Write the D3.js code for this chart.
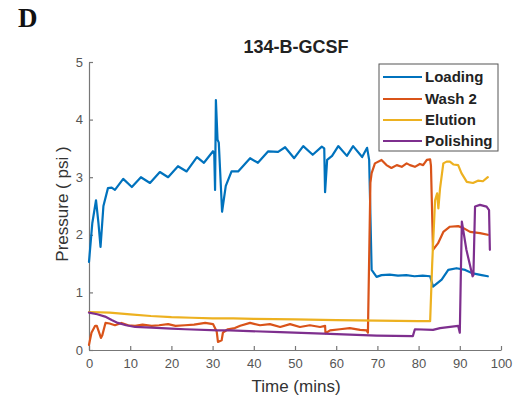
<!DOCTYPE html>
<html><head><meta charset="utf-8">
<script src="https://cdn.jsdelivr.net/npm/d3@7"></script>
<style>body{margin:0;background:#fff;}svg{display:block;font-family:"Liberation Sans",Arial,sans-serif;}</style>
</head><body>
<svg id="chart" width="518" height="401"></svg>
<script>
const seriesNames = ["Loading", "Wash 2", "Elution", "Polishing"];
const seriesColors = ["#0072BD", "#D95319", "#EDB120", "#7E2F8E"];
const xTicks = [0,10,20,30,40,50,60,70,80,90,100];
const yTicks = [0,1,2,3,4,5];

const loadingTime = [0,0.8,1.7,2.3,2.8,3.5,4.6,5.5,6.3,8.3,10.4,12.6,14.8,17.2,19.2,21.6,23.7,26.2,27.9,30.1,30.4,30.6,30.8,31.2,31.5,32.3,33.2,34.6,36.2,39.1,41,43.5,45.9,47.6,49.8,52,54.3,56.5,57.1,57.3,57.8,59,60.5,62.6,64.1,66.3,67.5,68,68.6,69.8,71,73,75,77,79,81,82.8,83.5,85.6,87.2,89.2,91.3,93.2,95.3,96.8];
const loadingP = [1.53,2.2,2.6,2.2,1.79,2.5,2.81,2.82,2.78,2.97,2.83,3.0,2.9,3.09,3.0,3.19,3.1,3.35,3.25,3.45,3.4,2.78,4.34,3.65,3.6,2.4,2.85,3.1,3.1,3.33,3.25,3.45,3.44,3.52,3.33,3.54,3.39,3.53,3.5,2.74,3.3,3.37,3.54,3.37,3.54,3.35,3.51,3.3,1.39,1.27,1.3,1.31,1.29,1.3,1.28,1.29,1.28,1.1,1.22,1.39,1.42,1.39,1.33,1.3,1.28];

const washTime = [0,0.6,1.5,1.9,2.9,3.2,4.0,5,6.3,7.9,9.5,11.2,13,15.2,17,19.2,21,23.3,25.5,28.2,30.1,31,31.3,32.2,32.5,33.7,35.4,36.7,39.1,41.5,43.9,46.4,48.8,51.2,53.6,56.1,57.3,57.4,58.5,60.9,63.3,65.8,67.4,67.7,68.3,68.6,69.4,71,72.2,73.4,74.7,75.9,77.1,77.9,79.1,80.3,81.1,82,82.8,83.0,83.5,84.7,86,87.6,89.6,90.8,92.5,94.9,96.8];
const washP = [0.09,0.3,0.42,0.42,0.21,0.25,0.47,0.46,0.43,0.47,0.43,0.42,0.44,0.42,0.43,0.45,0.42,0.43,0.44,0.47,0.45,0.32,0.14,0.17,0.3,0.36,0.38,0.42,0.47,0.43,0.45,0.4,0.45,0.4,0.43,0.4,0.42,0.29,0.34,0.36,0.38,0.35,0.34,0.3,2.9,3.07,3.24,3.3,3.21,3.16,3.21,3.18,3.24,3.21,3.18,3.23,3.21,3.3,3.31,3.2,1.74,1.85,2.05,2.14,2.15,2.12,2.05,2.03,2.0];

const elutionTime = [0,5,10,15,20,25,30,35,40,50,60,70,80,82.8,83.3,84,84.5,84.8,85.2,86,86.8,87.6,88.5,89.6,90.4,91.7,93.2,94.4,95.6,96.8];
const elutionP = [0.66,0.65,0.62,0.59,0.57,0.56,0.55,0.55,0.54,0.53,0.52,0.51,0.5,0.5,1.5,2.6,2.72,2.46,2.8,3.24,3.27,3.27,3.22,3.21,3.07,2.92,2.9,2.94,2.93,3.0];

const polishTime = [0,2,3.9,5.5,7,9,11.2,15.2,20,23.3,31.3,34.2,46.4,58.5,69.8,78.6,79.1,83.5,85.2,89.6,90.0,90.3,90.5,91.6,93.1,93.3,93.7,94.9,96.5,97.1,97.3];
const polishP = [0.65,0.62,0.58,0.52,0.47,0.43,0.4,0.39,0.37,0.36,0.34,0.34,0.31,0.28,0.25,0.24,0.36,0.35,0.38,0.42,0.3,1.5,2.23,1.74,1.28,1.3,2.49,2.52,2.49,2.43,1.74];

const seriesData = [
  d3.zip(loadingTime, loadingP),
  d3.zip(washTime, washP),
  d3.zip(elutionTime, elutionP),
  d3.zip(polishTime, polishP)
];

const svg = d3.select("#chart");
const x = d3.scaleLinear().domain([0,100]).range([89,501]);
const y = d3.scaleLinear().domain([0,5]).range([350,62]);

// panel letter
svg.append("text").attr("x",18).attr("y",27)
  .style("font-family","'Liberation Serif','Times New Roman',serif")
  .style("font-weight","bold").style("font-size","27px").attr("fill","#111").text("D");

// title
svg.append("text").attr("x",296).attr("y",53).attr("text-anchor","middle")
  .style("font-weight","bold").style("font-size","18px").attr("fill","#222").text("134-B-GCSF");

const axisColor = "#777", textColor = "#555";
const xAxis = svg.append("g").attr("transform","translate(0,350)")
  .call(d3.axisBottom(x).tickValues(xTicks).tickFormat(d3.format("d")).tickSizeInner(-4).tickSizeOuter(0).tickPadding(9));
const yAxis = svg.append("g").attr("transform","translate(89,0)")
  .call(d3.axisLeft(y).tickValues(yTicks).tickFormat(d3.format("d")).tickSizeInner(-4).tickSizeOuter(0).tickPadding(6));
[xAxis,yAxis].forEach(g=>{
  g.select(".domain").attr("stroke",axisColor).attr("stroke-width",1.2);
  g.selectAll(".tick line").attr("stroke",axisColor).attr("stroke-width",1.2);
  g.selectAll(".tick text").attr("fill",textColor).style("font-size","13px").style("font-family","'Liberation Sans',Arial,sans-serif");
});

// axis labels
svg.append("text").attr("x",296).attr("y",392).attr("text-anchor","middle")
  .style("font-size","17px").attr("fill","#333").text("Time (mins)");
svg.append("text").attr("transform","translate(68,204) rotate(-90)").attr("text-anchor","middle")
  .style("font-size","17px").attr("fill","#333").text("Pressure ( psi )");

const line = d3.line().x(d=>x(d[0])).y(d=>y(d[1])).curve(d3.curveLinear);
seriesData.forEach((data,i)=>{
  svg.append("path").datum(data).attr("d",line).attr("fill","none")
    .attr("stroke",seriesColors[i]).attr("stroke-width",2.2)
    .attr("stroke-linejoin","round").attr("stroke-linecap","round");
});

// legend
const lg = svg.append("g");
lg.append("rect").attr("x",379).attr("y",64).attr("width",119).attr("height",87)
  .attr("fill","#fff").attr("stroke","#555").attr("stroke-width",1);
const legendBase = [82,104,125,146];
seriesNames.forEach((n,i)=>{
  lg.append("line").attr("x1",383).attr("x2",422).attr("y1",legendBase[i]-5).attr("y2",legendBase[i]-5)
    .attr("stroke",seriesColors[i]).attr("stroke-width",2.2);
  lg.append("text").attr("x",425).attr("y",legendBase[i]).style("font-size","15px")
    .style("font-weight","bold").attr("fill","#222").text(n);
});
</script>
</body></html>
